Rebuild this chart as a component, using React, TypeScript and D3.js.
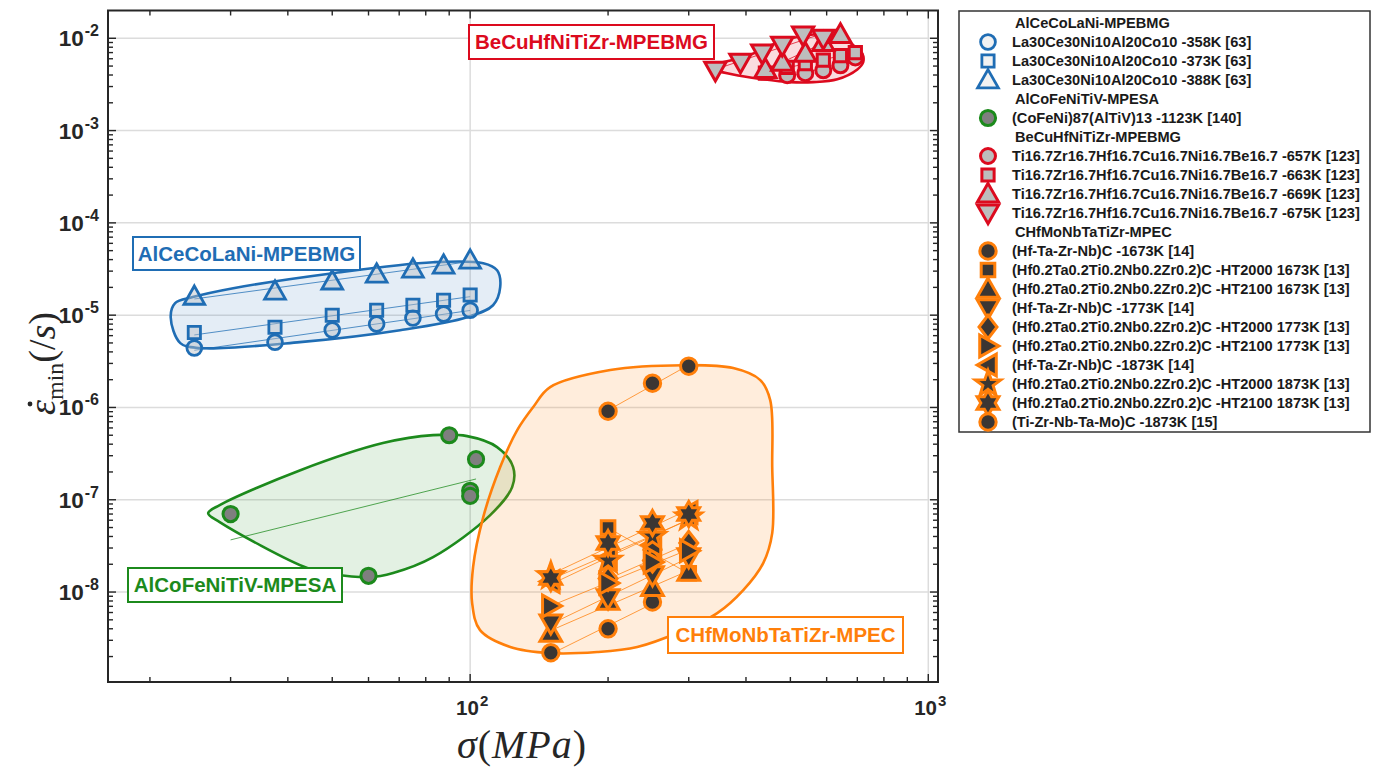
import React from 'react';
import * as d3 from 'd3';

const W = 1380;
const H = 769;

// ---------- AlCeCoLaNi-MPEBMG ----------
const laStress = [25, 37.5, 50, 62.5, 75, 87.5, 100];
const la358Rate = [4.4e-6, 5.1e-6, 6.9e-6, 8.0e-6, 9.3e-6, 1.03e-5, 1.13e-5];
const la373Rate = [6.5e-6, 7.4e-6, 1.0e-5, 1.13e-5, 1.28e-5, 1.45e-5, 1.65e-5];
const la388Rate = [1.6e-5, 1.82e-5, 2.34e-5, 2.78e-5, 3.15e-5, 3.48e-5, 3.94e-5];

// ---------- AlCoFeNiTiV-MPESA ----------
const cfnStress = [30, 60, 90, 100, 100, 103];
const cfnRate = [7.0e-8, 1.5e-8, 5.0e-7, 1.25e-7, 1.1e-7, 2.75e-7];

// ---------- BeCuHfNiTiZr-MPEBMG ----------
const ti657Stress = [492, 539, 590, 643, 693];
const ti657Rate = [3.98e-3, 4.18e-3, 4.5e-3, 5.1e-3, 6.2e-3];
const ti663Stress = [441, 492, 539, 590, 643, 693];
const ti663Rate = [4.2e-3, 4.85e-3, 5.3e-3, 5.8e-3, 6.5e-3, 7.0e-3];
const ti669Stress = [441, 480, 539, 590, 643];
const ti669Rate = [4.6e-3, 5.5e-3, 6.9e-3, 9.0e-3, 1.1e-2];
const ti675Stress = [343, 389, 434, 480, 533, 590];
const ti675Rate = [4.5e-3, 5.5e-3, 6.9e-3, 8.4e-3, 1.08e-2, 1.0e-2];

// ---------- CHfMoNbTaTiZr-MPEC ----------
const hfc1673Stress = [150, 200, 250];
const hfc1673Rate = [2.2e-9, 4.0e-9, 7.8e-9];
const ht2000a1673Stress = [200, 250, 300];
const ht2000a1673Rate = [5.0e-8, 2.6e-8, 1.6e-8];
const ht2100a1673Stress = [150, 200, 250, 300];
const ht2100a1673Rate = [3.6e-9, 8.0e-9, 1.13e-8, 1.65e-8];
const hfc1773Stress = [150, 200, 250, 300];
const hfc1773Rate = [4.6e-9, 8.6e-9, 1.53e-8, 2.39e-8];
const ht2000a1773Stress = [200, 250, 300];
const ht2000a1773Rate = [1.4e-8, 2.2e-8, 3.4e-8];
const ht2100a1773Stress = [150, 200, 250, 300];
const ht2100a1773Rate = [7.05e-9, 1.25e-8, 2.11e-8, 2.8e-8];
const hfc1873Stress = [150, 200, 250, 300];
const hfc1873Rate = [1.3e-8, 2.33e-8, 3.23e-8, 7.3e-8];
const ht2000a1873Stress = [150, 200, 250, 300];
const ht2000a1873Rate = [1.5e-8, 2.2e-8, 4.0e-8, 6.5e-8];
const ht2100a1873Stress = [150, 200, 250, 300];
const ht2100a1873Rate = [1.42e-8, 3.4e-8, 5.6e-8, 7.0e-8];
const tzc1873Stress = [200, 250, 300];
const tzc1873Rate = [9.1e-7, 1.83e-6, 2.8e-6];

// ---------- region outlines (stress, rate) ----------
const laHullStress = [22.2, 22.7, 24.8, 30.4, 50.2, 83, 106.8, 114.5, 116.3, 112.2, 98.5, 70.3, 42.5, 25.7, 23.3];
const laHullRate = [9.5e-6, 1.35e-5, 1.57e-5, 1.96e-5, 2.85e-5, 3.75e-5, 3.66e-5, 3.07e-5, 2.01e-5, 1.28e-5, 9.5e-6, 6.87e-6, 5.1e-6, 4.4e-6, 4.98e-6];
const cfnHullStress = [26.8, 28.4, 42.6, 64.5, 83.0, 98.5, 114.5, 124.1, 123.5, 110.6, 83.0, 67.9, 60.2, 50.2, 44.1, 28.4];
const cfnHullRate = [7.16e-8, 8.75e-8, 2.09e-7, 4.11e-7, 5.01e-7, 4.89e-7, 3.72e-7, 2.26e-7, 1.37e-7, 6.82e-8, 2.39e-8, 1.61e-8, 1.45e-8, 1.57e-8, 1.82e-8, 5.73e-8];
const tiHullStress = [331, 402, 475, 561, 643, 686, 717, 721, 700, 633, 561, 500, 436, 375];
const tiHullRate = [4.85e-3, 6.4e-3, 9.2e-3, 1.1e-2, 1.02e-2, 8.4e-3, 6.89e-3, 5.5e-3, 4.6e-3, 3.6e-3, 3.35e-3, 3.35e-3, 3.6e-3, 4.05e-3];
const mpecHullStress = [137.3, 149.5, 202.2, 291.8, 375.2, 429.8, 451.8, 456.4, 456.4, 436.2, 394.6, 346.2, 283.1, 231.6, 189.3, 149.5, 122.3, 105.1, 101, 101.5, 106.8, 116.3, 126.7];
const mpecHullRate = [1.01e-6, 1.66e-6, 2.54e-6, 2.87e-6, 2.67e-6, 1.98e-6, 1.2e-6, 2.26e-7, 4.35e-8, 2.06e-8, 1.05e-8, 5.91e-9, 3.6e-9, 2.54e-9, 2.24e-9, 2.18e-9, 2.54e-9, 3.87e-9, 7.6e-9, 1.87e-8, 6.49e-8, 2.26e-7, 5.68e-7];

// ---------- axis ticks ----------
const xMajorTicks = [100, 1000];
const xTickExps = ['2', '3'];
const yMajorTicks = [1e-8, 1e-7, 1e-6, 1e-5, 1e-4, 1e-3, 1e-2];
const yTickExps = ['-8', '-7', '-6', '-5', '-4', '-3', '-2'];

const BLUE = '#1f6db4';
const GREEN = '#1c8a1c';
const RED = '#dc0a1e';
const ORANGE = '#ff7f0a';

type Shape = 'o' | 's' | '^' | 'v' | 'd' | '>' | '<' | 'p' | 'h';

interface Series {
  label: string;
  shape: Shape;
  stress: number[];
  rate: number[];
}
interface Group {
  name: string;
  color: string;
  markerFill: string;
  hullFill: string;
  hullStress: number[];
  hullRate: number[];
  series: Series[];
}

const groups: Group[] = [
  {
    name: 'AlCeCoLaNi-MPEBMG', color: BLUE, markerFill: 'rgba(185,190,198,0.45)', hullFill: 'rgba(31,109,180,0.12)',
    hullStress: laHullStress, hullRate: laHullRate,
    series: [
      { label: 'La30Ce30Ni10Al20Co10 -358K [63]', shape: 'o', stress: laStress, rate: la358Rate },
      { label: 'La30Ce30Ni10Al20Co10 -373K [63]', shape: 's', stress: laStress, rate: la373Rate },
      { label: 'La30Ce30Ni10Al20Co10 -388K [63]', shape: '^', stress: laStress, rate: la388Rate },
    ],
  },
  {
    name: 'AlCoFeNiTiV-MPESA', color: GREEN, markerFill: '#7f7f7f', hullFill: 'rgba(28,138,28,0.12)',
    hullStress: cfnHullStress, hullRate: cfnHullRate,
    series: [
      { label: '(CoFeNi)87(AlTiV)13 -1123K [140]', shape: 'o', stress: cfnStress, rate: cfnRate },
    ],
  },
  {
    name: 'BeCuHfNiTiZr-MPEBMG', color: RED, markerFill: '#bdbdbd', hullFill: 'rgba(220,10,30,0.14)',
    hullStress: tiHullStress, hullRate: tiHullRate,
    series: [
      { label: 'Ti16.7Zr16.7Hf16.7Cu16.7Ni16.7Be16.7 -657K [123]', shape: 'o', stress: ti657Stress, rate: ti657Rate },
      { label: 'Ti16.7Zr16.7Hf16.7Cu16.7Ni16.7Be16.7 -663K [123]', shape: 's', stress: ti663Stress, rate: ti663Rate },
      { label: 'Ti16.7Zr16.7Hf16.7Cu16.7Ni16.7Be16.7 -669K [123]', shape: '^', stress: ti669Stress, rate: ti669Rate },
      { label: 'Ti16.7Zr16.7Hf16.7Cu16.7Ni16.7Be16.7 -675K [123]', shape: 'v', stress: ti675Stress, rate: ti675Rate },
    ],
  },
  {
    name: 'CHfMoNbTaTiZr-MPEC', color: ORANGE, markerFill: '#3b3633', hullFill: 'rgba(255,127,10,0.14)',
    hullStress: mpecHullStress, hullRate: mpecHullRate,
    series: [
      { label: '(Hf-Ta-Zr-Nb)C -1673K [14]', shape: 'o', stress: hfc1673Stress, rate: hfc1673Rate },
      { label: '(Hf0.2Ta0.2Ti0.2Nb0.2Zr0.2)C -HT2000 1673K [13]', shape: 's', stress: ht2000a1673Stress, rate: ht2000a1673Rate },
      { label: '(Hf0.2Ta0.2Ti0.2Nb0.2Zr0.2)C -HT2100 1673K [13]', shape: '^', stress: ht2100a1673Stress, rate: ht2100a1673Rate },
      { label: '(Hf-Ta-Zr-Nb)C -1773K [14]', shape: 'v', stress: hfc1773Stress, rate: hfc1773Rate },
      { label: '(Hf0.2Ta0.2Ti0.2Nb0.2Zr0.2)C -HT2000 1773K [13]', shape: 'd', stress: ht2000a1773Stress, rate: ht2000a1773Rate },
      { label: '(Hf0.2Ta0.2Ti0.2Nb0.2Zr0.2)C -HT2100 1773K [13]', shape: '>', stress: ht2100a1773Stress, rate: ht2100a1773Rate },
      { label: '(Hf-Ta-Zr-Nb)C -1873K [14]', shape: '<', stress: hfc1873Stress, rate: hfc1873Rate },
      { label: '(Hf0.2Ta0.2Ti0.2Nb0.2Zr0.2)C -HT2000 1873K [13]', shape: 'p', stress: ht2000a1873Stress, rate: ht2000a1873Rate },
      { label: '(Hf0.2Ta0.2Ti0.2Nb0.2Zr0.2)C -HT2100 1873K [13]', shape: 'h', stress: ht2100a1873Stress, rate: ht2100a1873Rate },
      { label: '(Ti-Zr-Nb-Ta-Mo)C -1873K [15]', shape: 'o', stress: tzc1873Stress, rate: tzc1873Rate },
    ],
  },
];

// ---------- marker geometry ----------
function rotatePts(pts: [number, number][], deg: number): [number, number][] {
  const a = (deg * Math.PI) / 180;
  const c = Math.cos(a), s = Math.sin(a);
  return pts.map(([px, py]) => [px * c - py * s, px * s + py * c]);
}
function polyD(pts: [number, number][]): string {
  return 'M' + pts.map((p) => `${p[0].toFixed(2)},${p[1].toFixed(2)}`).join('L') + 'Z';
}
function triangle(r: number, deg: number): string {
  const base: [number, number][] = [[0, -r * 1.05], [r * 1.05, r * 0.8], [-r * 1.05, r * 0.8]];
  return polyD(rotatePts(base, deg));
}
function starPts(n: number, R: number, ri: number): string {
  const pts: [number, number][] = [];
  for (let i = 0; i < 2 * n; i++) {
    const a = -Math.PI / 2 + (i * Math.PI) / n;
    const rr = i % 2 === 0 ? R : ri;
    pts.push([rr * Math.cos(a), rr * Math.sin(a)]);
  }
  return polyD(pts);
}
function markerD(shape: Shape, r: number): string {
  switch (shape) {
    case 'o':
      return `M${r},0A${r},${r} 0 1,1 ${-r},0A${r},${r} 0 1,1 ${r},0Z`;
    case 's':
      return `M${-r * 0.85},${-r * 0.85}H${r * 0.85}V${r * 0.85}H${-r * 0.85}Z`;
    case 'd':
      return `M0,${-r * 1.3}L${r},0L0,${r * 1.3}L${-r},0Z`;
    case '^':
      return triangle(r * 1.15, 0);
    case 'v':
      return triangle(r * 1.15, 180);
    case '>':
      return triangle(r * 1.15, 90);
    case '<':
      return triangle(r * 1.15, -90);
    case 'p':
      return starPts(5, r * 1.5, r * 0.6);
    case 'h':
      return starPts(6, r * 1.4, r * 0.8);
  }
}

// least-squares line in log-log space across the series' stress range
function fitEnds(xs: number[], ys: number[]): [number, number][] | null {
  if (xs.length < 2) return null;
  const lx = xs.map(Math.log10);
  const ly = ys.map(Math.log10);
  const mx = d3.mean(lx) as number;
  const my = d3.mean(ly) as number;
  let sxy = 0, sxx = 0;
  lx.forEach((v, i) => {
    sxy += (v - mx) * (ly[i] - my);
    sxx += (v - mx) * (v - mx);
  });
  const b = sxx > 0 ? sxy / sxx : 0;
  const x0 = d3.min(lx) as number;
  const x1 = d3.max(lx) as number;
  return [
    [10 ** x0, 10 ** (my + b * (x0 - mx))],
    [10 ** x1, 10 ** (my + b * (x1 - mx))],
  ];
}

const FONT = "'Liberation Sans', Arial, Helvetica, sans-serif";
const SERIF = "'Liberation Serif', 'DejaVu Serif', 'Times New Roman', serif";

export default function App() {
  const left = 108, right = 938, top = 10.5, bottom = 682;
  const x = d3.scaleLog().domain([16.2, 1050]).range([left, right]);
  const y = d3.scaleLog().domain([1.06e-9, 2e-2]).range([bottom, top]);

  const xMinor: number[] = [];
  [10, 100, 1000].forEach((d) => {
    for (let k = 2; k <= 9; k++) {
      const v = k * d;
      if (v > 16.2 && v < 1050) xMinor.push(v);
    }
  });
  const yMinor: number[] = [];
  for (let e = -9; e <= -2; e++) {
    for (let k = 2; k <= 9; k++) {
      const v = k * 10 ** e;
      if (v > 1.06e-9 && v < 2e-2) yMinor.push(v);
    }
  }

  const hullLine = d3
    .line<[number, number]>()
    .x((d) => x(d[0]))
    .y((d) => y(d[1]))
    .curve(d3.curveCatmullRomClosed.alpha(0.5));

  const markerR = (g: Group, s: Shape) => {
    if (g.color === ORANGE) return s === 'o' ? 8.2 : s === 's' ? 8 : 9;
    if (g.color === GREEN) return 7.6;
    if (g.color === RED) return s === 'o' ? 7.5 : s === 's' ? 7.2 : 8.8;
    return s === 'o' ? 7.4 : s === 's' ? 7.2 : 8.6;
  };

  type Row = { kind: 'head'; text: string } | { kind: 'item'; text: string; g: Group; s: Series };
  const rows: Row[] = [];
  groups.forEach((g) => {
    rows.push({ kind: 'head', text: g.name });
    g.series.forEach((s) => rows.push({ kind: 'item', text: s.label, g, s }));
  });
  const legX = 959, legY = 11, legW = 411, legH = 421;
  const rowY0 = 23, rowStep = 19;

  const labelBoxes = [
    { text: 'BeCuHfNiTiZr-MPEBMG', color: RED, x0: 469, y0: 25, w: 245, h: 34 },
    { text: 'AlCeCoLaNi-MPEBMG', color: BLUE, x0: 133, y0: 237, w: 227, h: 33 },
    { text: 'AlCoFeNiTiV-MPESA', color: GREEN, x0: 128, y0: 568, w: 214, h: 34 },
    { text: 'CHfMoNbTaTiZr-MPEC', color: ORANGE, x0: 668, y0: 617, w: 235, h: 36 },
  ];

  return (
    <svg
      width={W}
      height={H}
      viewBox={`0 0 ${W} ${H}`}
      style={{ position: 'absolute', left: 0, top: 0, display: 'block' }}
    >
      <rect x={0} y={0} width={W} height={H} fill="#ffffff" />

      {/* grid */}
      <g stroke="#dcdcdc" strokeWidth={1.5}>
        {xMajorTicks.map((v) => (
          <line key={'gx' + v} x1={x(v)} x2={x(v)} y1={top} y2={bottom} />
        ))}
        {yMajorTicks.map((v) => (
          <line key={'gy' + v} x1={left} x2={right} y1={y(v)} y2={y(v)} />
        ))}
      </g>

      {/* group regions */}
      {groups.map((g) => {
        const pts = g.hullStress.map((s, i) => [s, g.hullRate[i]] as [number, number]);
        return (
          <path
            key={'hull' + g.name}
            d={hullLine(pts) || ''}
            fill={g.hullFill}
            stroke={g.color}
            strokeWidth={2.6}
          />
        );
      })}

      {/* fit lines */}
      {groups.map((g) =>
        g.series.map((s, i) => {
          const ends = fitEnds(s.stress, s.rate);
          if (!ends) return null;
          return (
            <line
              key={'fit' + g.name + i}
              x1={x(ends[0][0])}
              y1={y(ends[0][1])}
              x2={x(ends[1][0])}
              y2={y(ends[1][1])}
              stroke={g.color}
              strokeWidth={1}
              strokeOpacity={0.75}
            />
          );
        })
      )}

      {/* markers */}
      {groups.map((g) =>
        g.series.map((s, i) =>
          s.stress.map((v, j) => (
            <path
              key={'m' + g.name + i + '_' + j}
              d={markerD(s.shape, markerR(g, s.shape))}
              transform={`translate(${x(v)},${y(s.rate[j])})`}
              fill={g.markerFill}
              stroke={g.color}
              strokeWidth={g.color === BLUE ? 2.8 : 3}
              strokeLinejoin="miter"
            />
          ))
        )
      )}

      {/* region labels */}
      {labelBoxes.map((b) => (
        <g key={'lb' + b.text}>
          <rect x={b.x0} y={b.y0} width={b.w} height={b.h} fill="#ffffff" stroke={b.color} strokeWidth={2} />
          <text
            x={b.x0 + b.w / 2}
            y={b.y0 + b.h / 2 + 7}
            textAnchor="middle"
            fontFamily={FONT}
            fontWeight="bold"
            fontSize={20.5}
            fill={b.color}
          >
            {b.text}
          </text>
        </g>
      ))}

      {/* axes frame and ticks */}
      <g stroke="#262626" strokeWidth={1.4}>
        {xMajorTicks.map((v) => (
          <g key={'xt' + v}>
            <line x1={x(v)} x2={x(v)} y1={bottom} y2={bottom - 8} />
            <line x1={x(v)} x2={x(v)} y1={top} y2={top + 8} />
          </g>
        ))}
        {xMinor.map((v) => (
          <g key={'xm' + v}>
            <line x1={x(v)} x2={x(v)} y1={bottom} y2={bottom - 5} />
            <line x1={x(v)} x2={x(v)} y1={top} y2={top + 5} />
          </g>
        ))}
        {yMajorTicks.map((v) => (
          <g key={'yt' + v}>
            <line x1={left} x2={left + 8} y1={y(v)} y2={y(v)} />
            <line x1={right} x2={right - 8} y1={y(v)} y2={y(v)} />
          </g>
        ))}
        {yMinor.map((v) => (
          <g key={'ym' + v}>
            <line x1={left} x2={left + 5} y1={y(v)} y2={y(v)} />
            <line x1={right} x2={right - 5} y1={y(v)} y2={y(v)} />
          </g>
        ))}
      </g>
      <rect x={left} y={top} width={right - left} height={bottom - top} fill="none" stroke="#262626" strokeWidth={2} />

      {/* tick labels */}
      <g fontFamily={FONT} fontWeight="bold" fill="#262626">
        {yMajorTicks.map((v, i) => (
          <text key={'yl' + v} x={99} y={y(v) + 8} textAnchor="end" fontSize={22.5}>
            10
            <tspan dx={1} dy={-10} fontSize={16}>
              {yTickExps[i]}
            </tspan>
          </text>
        ))}
        {xMajorTicks.map((v, i) => (
          <text key={'xl' + v} x={x(v) + 2} y={715} textAnchor="middle" fontSize={20.5}>
            10
            <tspan dx={1} dy={-9} fontSize={15}>
              {xTickExps[i]}
            </tspan>
          </text>
        ))}
      </g>

      {/* axis titles */}
      <text x={522} y={758} textAnchor="middle" fontFamily={SERIF} fontSize={40} fill="#262626" letterSpacing={1}>
        <tspan fontStyle="italic">σ</tspan>
        <tspan>(</tspan>
        <tspan fontStyle="italic">MPa</tspan>
        <tspan>)</tspan>
      </text>
      <g transform="translate(55,343) rotate(-90)" fill="#262626" fontFamily={SERIF}>
        <text x={-72} y={0} fontSize={38}>
          <tspan fontStyle="italic">{'\u03B5'}</tspan>
          <tspan fontSize={24} dy={8}>min</tspan>
          <tspan dy={-8}>(/</tspan>
          <tspan fontStyle="italic">s</tspan>
          <tspan>)</tspan>
        </text>
        <circle cx={-61} cy={-25} r={2.4} />
      </g>

      {/* legend */}
      <rect x={legX} y={legY} width={legW} height={legH} fill="#ffffff" stroke="#333333" strokeWidth={1.5} />
      {rows.map((r, i) => {
        const cy = rowY0 + i * rowStep;
        if (r.kind === 'head') {
          return (
            <text key={'lr' + i} x={1015} y={cy + 5} fontFamily={FONT} fontWeight="bold" fontSize={14.6} fill="#1a1a1a">
              {r.text}
            </text>
          );
        }
        return (
          <g key={'lr' + i}>
            <path
              d={markerD(r.s.shape, markerR(r.g, r.s.shape))}
              transform={`translate(988,${cy})`}
              fill={r.g.color === BLUE ? '#f2f2f2' : r.g.markerFill}
              stroke={r.g.color}
              strokeWidth={r.g.color === BLUE ? 2.8 : 3}
            />
            <text x={1012} y={cy + 5} fontFamily={FONT} fontWeight="bold" fontSize={14.6} fill="#1a1a1a">
              {r.text}
            </text>
          </g>
        );
      })}
    </svg>
  );
}
